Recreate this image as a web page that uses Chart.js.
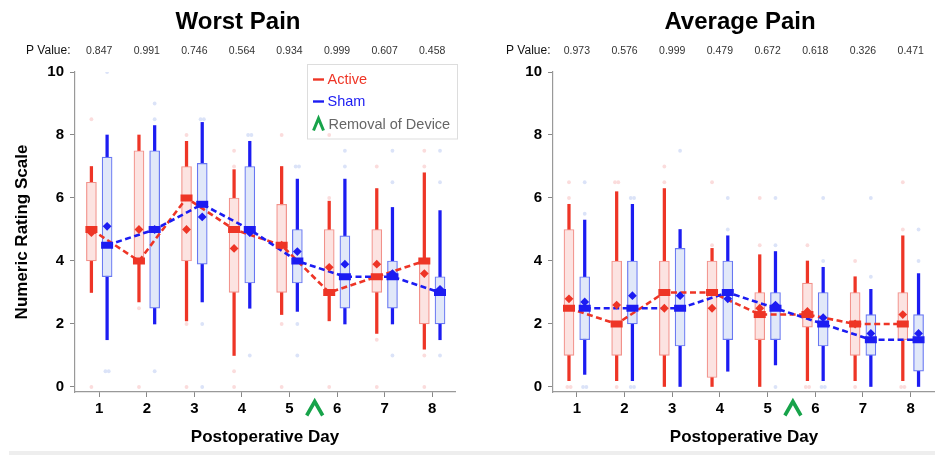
<!DOCTYPE html>
<html><head><meta charset="utf-8">
<script src="https://cdn.jsdelivr.net/npm/chart.js@4.4.0/dist/chart.umd.min.js"></script>
<style>
html,body{margin:0;padding:0;background:#fff;width:935px;height:455px;overflow:hidden;position:relative}
#c1{position:absolute;left:0;top:0;width:480px;height:455px}
#c2{position:absolute;left:480px;top:0;width:455px;height:455px}
#band{position:absolute;left:9px;top:451px;width:926px;height:4px;background:#eeeeee}
</style></head><body>
<canvas id="c1" width="480" height="455"></canvas>
<canvas id="c2" width="455" height="455"></canvas>
<div id="band"></div>
<script>
// ---------- data ----------
const days = [1, 2, 3, 4, 5, 6, 7, 8];
const yTicks = [0, 2, 4, 6, 8, 10];
const removalDay = 5.53;
const groupNames = ['Active', 'Sham'];

const worstP = ['0.847', '0.991', '0.746', '0.564', '0.934', '0.999', '0.607', '0.458'];
const avgP = ['0.973', '0.576', '0.999', '0.479', '0.672', '0.618', '0.326', '0.471'];

// Worst Pain - Active
const worstActiveMin  = [3.0, 2.7, 2.1, 1.0, 2.3, 2.1, 1.7, 1.2];
const worstActiveQ1   = [4.0, 4.0, 4.0, 3.0, 3.0, 3.0, 3.0, 2.0];
const worstActiveMed  = [5.0, 4.0, 6.0, 5.0, 4.5, 3.0, 3.5, 4.0];
const worstActiveQ3   = [6.5, 7.5, 7.0, 6.0, 5.8, 5.0, 5.0, 4.0];
const worstActiveMax  = [7.0, 8.0, 7.8, 6.9, 7.0, 5.9, 6.3, 6.8];
const worstActiveMean = [4.9, 5.0, 5.0, 4.4, 4.5, 3.8, 3.9, 3.6];
const worstActiveOut  = [[8.5, 0], [2.5, 0], [8, 2, 0], [7.5, 7, 0.5, 0], [8, 2, 0], [8, 6, 0], [7, 1.5, 0], [7.5, 7, 1, 0]];
// Worst Pain - Sham
const worstShamMin  = [1.5, 2.0, 2.7, 2.5, 2.4, 2.0, 2.0, 1.5];
const worstShamQ1   = [3.5, 2.5, 3.9, 3.3, 3.3, 2.5, 2.5, 2.0];
const worstShamMed  = [4.5, 5.0, 5.8, 5.0, 4.0, 3.5, 3.5, 3.0];
const worstShamQ3   = [7.3, 7.5, 7.1, 7.0, 5.0, 4.8, 4.0, 3.5];
const worstShamMax  = [8.0, 8.3, 8.4, 7.8, 6.6, 6.6, 5.7, 5.6];
const worstShamMean = [5.1, 5.0, 5.4, 4.9, 4.3, 3.9, 3.6, 3.1];
const worstShamOut  = [[10, 0.5, 0.5], [9, 8.5, 0.5], [8.5, 8.5, 2, 0], [8, 8, 1], [7, 7, 2, 1], [7.5, 7], [7.5, 6.5, 1], [7.5, 6.5, 1]];

// Average Pain - Active
const avgActiveMin  = [0.2, 0.2, 0.0, 0.0, 0.0, 0.2, 0.2, 0.2];
const avgActiveQ1   = [1.0, 1.0, 1.0, 0.3, 1.5, 1.9, 1.0, 1.5];
const avgActiveMed  = [2.5, 2.0, 3.0, 3.0, 2.3, 2.3, 2.0, 2.0];
const avgActiveQ3   = [5.0, 4.0, 4.0, 4.0, 3.0, 3.3, 3.0, 3.0];
const avgActiveMax  = [5.8, 6.2, 6.3, 4.4, 4.2, 4.0, 3.5, 4.8];
const avgActiveMean = [2.8, 2.6, 2.5, 2.5, 2.5, 2.4, 2.0, 2.3];
const avgActiveOut  = [[6.5, 6, 0, 0], [6.5, 6.5, 0], [7, 6.5], [6.5, 4.5], [6, 4.5], [4.5, 0, 0], [4, 0], [6.5, 5, 0, 0]];
// Average Pain - Sham
const avgShamMin  = [0.4, 0.2, 0.0, 0.5, 0.7, 0.2, 0.0, 0.0];
const avgShamQ1   = [1.5, 2.0, 1.3, 1.5, 1.5, 1.3, 1.0, 0.5];
const avgShamMed  = [2.5, 2.5, 2.5, 3.0, 2.5, 2.0, 1.5, 1.5];
const avgShamQ3   = [3.5, 4.0, 4.4, 4.0, 3.0, 3.0, 2.3, 2.3];
const avgShamMax  = [5.3, 5.8, 5.0, 4.8, 4.3, 3.8, 3.1, 3.6];
const avgShamMean = [2.7, 2.9, 2.9, 2.8, 2.6, 2.2, 1.7, 1.7];
const avgShamOut  = [[6.5, 5.5, 0, 0], [6, 6, 0, 0], [7.5], [6, 5], [6, 4.5, 0], [6, 4, 0, 0], [6, 3.5], [5, 4]];

// ---------- styling ----------
const FONT = "'Liberation Sans', Arial, Helvetica, sans-serif";
const STYLE = {
  Active: { off: -0.165, line: '#ee3526', fill: '#fce3e1', edge: '#f2918a', out: '#fbdcdc' },
  Sham:   { off:  0.165, line: '#1c1cf2', fill: '#e1e8f9', edge: '#6877f2', out: '#dbe3f8' }
};
const DUP_SPREAD = 0.07;

function groupDatasets(name, s, orderBase) {
  const st = STYLE[name];
  const xs = days.map(d => d + st.off);
  const pts = arr => xs.map((x, i) => ({ x: x, y: arr[i] }));
  const outPts = [];
  s.out.forEach((vals, i) => {
    const counts = {};
    vals.forEach(v => counts[v] = (counts[v] || 0) + 1);
    const seen = {};
    vals.forEach(v => {
      const k = counts[v], j = (seen[v] = (seen[v] || 0) + 1) - 1;
      outPts.push({ x: xs[i] + (j - (k - 1) / 2) * DUP_SPREAD, y: v });
    });
  });
  return [
    { type: 'scatter', label: name + ' outliers', data: outPts, pointRadius: 1.9, pointBackgroundColor: st.out, pointBorderWidth: 0, order: 60 + orderBase },
    { type: 'bar', label: name + ' whisker', data: xs.map((x, i) => ({ x: x, y: [s.min[i], s.max[i]] })), backgroundColor: st.line, borderWidth: 0, barThickness: 2.6, grouped: false, order: 50 + orderBase },
    { type: 'bar', label: name + ' box', data: xs.map((x, i) => ({ x: x, y: [s.q1[i], s.q3[i]] })), backgroundColor: st.fill, borderColor: st.edge, borderWidth: 1.2, borderSkipped: false, barThickness: 10, grouped: false, order: 40 + orderBase },
    { type: 'line', label: name + ' median line', data: pts(s.med), borderColor: st.line, borderWidth: 2.6, borderDash: [6, 3.5], pointRadius: 0, tension: 0, fill: false, order: 30 - orderBase },
    { type: 'scatter', label: name + ' median', data: pts(s.med), pointStyle: 'line', pointRadius: 6, pointBorderWidth: 7, pointBorderColor: st.line, pointBackgroundColor: st.line, order: 20 - orderBase },
    { type: 'scatter', label: name + ' mean', data: pts(s.mean), pointStyle: 'rectRot', pointRadius: 4.4, pointBackgroundColor: st.line, pointBorderWidth: 0, order: 10 - orderBase }
  ];
}

function drawCaret(ctx, cx, top, w, h, lw) {
  ctx.save();
  ctx.strokeStyle = '#17a34a';
  ctx.lineWidth = lw;
  ctx.lineJoin = 'miter';
  ctx.beginPath();
  ctx.moveTo(cx - w / 2, top + h);
  ctx.lineTo(cx, top);
  ctx.lineTo(cx + w / 2, top + h);
  ctx.stroke();
  ctx.restore();
}

function makeChart(canvasId, cfg) {
  const extras = {
    id: 'extras',
    beforeDatasetsDraw(chart) {
      if (!cfg.legend) return;
      const ctx = chart.ctx;
      ctx.save();
      ctx.fillStyle = '#ffffff';
      ctx.strokeStyle = '#dddddd';
      ctx.lineWidth = 1;
      ctx.fillRect(307.5, 64.5, 150, 74.5);
      ctx.strokeRect(307.5, 64.5, 150, 74.5);
      ctx.font = '14.5px ' + FONT;
      ctx.textBaseline = 'middle';
      ctx.textAlign = 'left';
      const rows = [[groupNames[0], STYLE.Active.line, 79.5], [groupNames[1], STYLE.Sham.line, 101.5]];
      rows.forEach(r => {
        ctx.strokeStyle = r[1]; ctx.lineWidth = 2.4;
        ctx.beginPath(); ctx.moveTo(313, r[2]); ctx.lineTo(324, r[2]); ctx.stroke();
        ctx.fillStyle = r[1]; ctx.fillText(r[0], 327.5, r[2]);
      });
      drawCaret(ctx, 318.5, 118.5, 10, 12, 3);
      ctx.fillStyle = '#666666';
      ctx.fillText('Removal of Device', 328.5, 124.5);
      ctx.restore();
    },
    afterDraw(chart) {
      const ctx = chart.ctx;
      const xs = chart.scales.x;
      ctx.save();
      ctx.fillStyle = '#000';
      ctx.textAlign = 'center';
      ctx.textBaseline = 'alphabetic';
      ctx.font = 'bold 24px ' + FONT;
      ctx.fillText(cfg.title, cfg.titleX, 29);
      ctx.textAlign = 'left';
      ctx.font = '12px ' + FONT;
      ctx.fillStyle = '#111';
      ctx.fillText('P Value:', 26, 54);
      ctx.textAlign = 'center';
      ctx.font = '10.5px ' + FONT;
      ctx.fillStyle = '#333';
      cfg.p.forEach((p, i) => ctx.fillText(p, xs.getPixelForValue(days[i]), 54));
      drawCaret(ctx, xs.getPixelForValue(removalDay), 401.5, 16, 14, 3.6);
      ctx.restore();
    }
  };

  const datasets = [].concat(groupDatasets('Active', cfg.active, 0), groupDatasets('Sham', cfg.sham, 1));

  return new Chart(document.getElementById(canvasId), {
    type: 'scatter',
    data: { datasets: datasets },
    options: {
      responsive: false,
      animation: false,
      events: [],
      layout: { autoPadding: false, padding: { left: 0, right: cfg.padRight, top: 72, bottom: 0 } },
      plugins: { legend: { display: false }, tooltip: { enabled: false }, title: { display: false } },
      scales: {
        x: {
          type: 'linear', min: cfg.xmin, max: cfg.xmax, offset: false,
          afterFit: sc => { sc.height = 63; sc.paddingLeft = 0; sc.paddingRight = 0; },
          afterBuildTicks: sc => { sc.ticks = days.map(v => ({ value: v })); },
          grid: { display: true, drawOnChartArea: false, drawTicks: true, tickLength: 5, color: '#888', offset: false },
          border: { display: true, color: '#999', width: 1.2 },
          ticks: { autoSkip: false, maxRotation: 0, padding: 3, color: '#000', font: { family: FONT, size: 15, weight: 'bold' }, callback: v => String(v) },
          title: { display: true, text: 'Postoperative Day', color: '#000', font: { family: FONT, size: 17, weight: 'bold' }, padding: { top: 0, bottom: 7 } }
        },
        y: {
          type: 'linear', min: -0.159, max: 10,
          afterFit: sc => { sc.width = cfg.yWidth; },
          afterBuildTicks: sc => { sc.ticks = yTicks.map(v => ({ value: v })); },
          grid: { display: true, drawOnChartArea: false, drawTicks: true, tickLength: 5, color: '#888' },
          border: { display: true, color: '#999', width: 1.2 },
          ticks: { padding: 6, color: '#000', font: { family: FONT, size: 15, weight: 'bold' }, callback: v => String(v) },
          title: { display: cfg.yTitle !== '', text: cfg.yTitle, color: '#000', font: { family: FONT, size: 17, weight: 'bold' }, padding: { top: 12, bottom: 0 } }
        }
      }
    },
    plugins: [extras]
  });
}

makeChart('c1', {
  title: 'Worst Pain', titleX: 238, p: worstP, legend: true,
  yTitle: 'Numeric Rating Scale', yWidth: 75, padRight: 25, xmin: 0.49, xmax: 8.48,
  active: { min: worstActiveMin, q1: worstActiveQ1, med: worstActiveMed, q3: worstActiveQ3, max: worstActiveMax, mean: worstActiveMean, out: worstActiveOut },
  sham: { min: worstShamMin, q1: worstShamQ1, med: worstShamMed, q3: worstShamQ3, max: worstShamMax, mean: worstShamMean, out: worstShamOut }
});
makeChart('c2', {
  title: 'Average Pain', titleX: 260, p: avgP, legend: false,
  yTitle: '', yWidth: 73, padRight: 0, xmin: 0.5, xmax: 8.51,
  active: { min: avgActiveMin, q1: avgActiveQ1, med: avgActiveMed, q3: avgActiveQ3, max: avgActiveMax, mean: avgActiveMean, out: avgActiveOut },
  sham: { min: avgShamMin, q1: avgShamQ1, med: avgShamMed, q3: avgShamQ3, max: avgShamMax, mean: avgShamMean, out: avgShamOut }
});
</script>
</body></html>
